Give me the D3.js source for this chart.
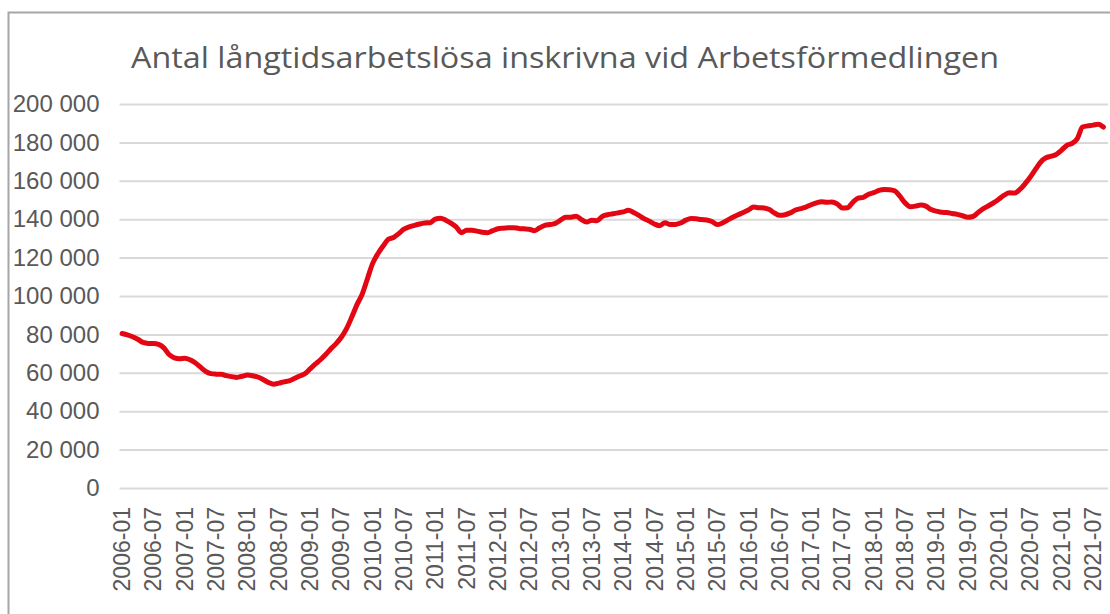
<!DOCTYPE html>
<html>
<head>
<meta charset="utf-8">
<script src="https://cdn.jsdelivr.net/npm/d3@7"></script>
<style>
  html, body { margin: 0; padding: 0; background: #fff; overflow: hidden; }
</style>
</head>
<body>
<div id="graph"></div>
<script>
// monthly values, 2006-01 .. 2021-09 (thousands)
var title = "Antal långtidsarbetslösa inskrivna vid Arbetsförmedlingen";
var startYear = 2006;
var v2006 = [80.5, 79.8, 78.8, 77.5, 75.8, 75.3, 75.3, 74.8, 73.0, 69.5, 67.8, 67.3];
var v2007 = [67.6, 66.8, 65.2, 63.0, 60.8, 59.6, 59.3, 59.2, 58.5, 58.0, 57.6, 58.2];
var v2008 = [58.8, 58.5, 57.8, 56.5, 55.0, 54.1, 54.6, 55.3, 55.8, 57.0, 58.3, 59.5];
var v2009 = [62.0, 64.5, 66.8, 69.5, 72.5, 75.2, 78.5, 83.0, 89.0, 95.5, 101.0, 109.0];
var v2010 = [117.0, 122.0, 126.0, 129.5, 130.5, 132.5, 134.8, 136.0, 136.8, 137.5, 138.0, 138.2];
var v2011 = [140.0, 140.5, 139.5, 138.0, 136.0, 133.0, 134.2, 134.2, 133.8, 133.2, 133.0, 134.0];
var v2012 = [135.0, 135.3, 135.5, 135.6, 135.2, 135.0, 134.8, 134.0, 135.5, 136.8, 137.2, 137.8];
var v2013 = [139.5, 141.0, 141.0, 141.6, 139.8, 138.5, 139.5, 139.2, 141.5, 142.3, 142.8, 143.3];
var v2014 = [143.8, 144.6, 143.5, 142.0, 140.3, 139.0, 137.5, 136.6, 138.2, 137.2, 137.3, 138.0];
var v2015 = [139.5, 140.4, 140.2, 139.8, 139.6, 138.8, 137.2, 138.0, 139.5, 141.0, 142.3, 143.5];
var v2016 = [144.8, 146.3, 146.0, 145.8, 145.0, 143.2, 142.0, 142.3, 143.3, 144.8, 145.5, 146.3];
var v2017 = [147.5, 148.5, 149.1, 148.8, 149.0, 148.0, 145.8, 146.0, 148.8, 151.0, 151.4, 153.0];
var v2018 = [153.8, 155.0, 155.5, 155.4, 154.8, 152.0, 148.5, 146.5, 146.8, 147.4, 146.8, 145.0];
var v2019 = [144.2, 143.6, 143.5, 143.0, 142.5, 141.8, 141.0, 141.4, 143.5, 145.5, 147.0, 148.6];
var v2020 = [150.5, 152.5, 153.8, 153.6, 155.5, 158.5, 162.0, 166.0, 169.8, 172.0, 172.8, 173.8];
var v2021 = [176.0, 178.5, 179.5, 182.0, 188.0, 188.6, 189.0, 189.5, 188.0];
var yTicks = [0, 20000, 40000, 60000, 80000, 100000, 120000, 140000, 160000, 180000, 200000];

var years = [v2006, v2007, v2008, v2009, v2010, v2011, v2012, v2013, v2014, v2015,
             v2016, v2017, v2018, v2019, v2020, v2021];

var data = [];
years.forEach(function(arr, i) {
    arr.forEach(function(v, m) {
        var mm = m + 1;
        data.push({
            label: (startYear + i) + "-" + (mm < 10 ? "0" + mm : mm),
            month: mm,
            value: v * 1000
        });
    });
});

var W = 1110, H = 614;
var plot = {left: 119.5, right: 1106, top: 104, bottom: 488};

var x = d3.scaleBand()
    .domain(data.map(function(d) { return d.label; }))
    .range([plot.left, plot.right]);

var y = d3.scaleLinear()
    .domain([0, 200000])
    .range([plot.bottom, plot.top]);

var svg = d3.select("#graph").append("svg")
    .attr("width", W)
    .attr("height", H)
    .style("display", "block");

// chart frame (right/bottom run off the picture)
svg.append("rect")
    .attr("x", 8.5).attr("y", 12.5)
    .attr("width", W + 20).attr("height", H + 20)
    .attr("fill", "none")
    .attr("stroke", "#a6a6a6")
    .attr("stroke-width", 2);

svg.append("text")
    .attr("x", 565)
    .attr("y", 68)
    .attr("text-anchor", "middle")
    .attr("font-family", "'Open Sans', 'Noto Sans', sans-serif")
    .attr("font-size", 29)
    .attr("fill", "#595959")
    .attr("textLength", 868)
    .attr("lengthAdjust", "spacingAndGlyphs")
    .text(title);

// y grid + labels
var yAxis = d3.axisLeft(y)
    .tickValues(yTicks)
    .tickSize(-(1108 - plot.left))
    .tickPadding(20)
    .tickFormat(function(d) { return d3.format(",")(d).replace(/,/g, " "); });

var gy = svg.append("g")
    .attr("transform", "translate(" + plot.left + ",0)")
    .call(yAxis);
gy.select(".domain").remove();
gy.selectAll(".tick line")
    .attr("stroke", "#d9d9d9")
    .attr("stroke-width", 2);
gy.selectAll(".tick text")
    .attr("font-family", "'Liberation Sans', Arial, sans-serif")
    .attr("font-size", 24)
    .attr("fill", "#595959");

// x labels every 6 months
var xAxis = d3.axisBottom(x)
    .tickValues(data.filter(function(d) { return d.month === 1 || d.month === 7; })
        .map(function(d) { return d.label; }))
    .tickSize(0);

var gx = svg.append("g")
    .attr("transform", "translate(0," + plot.bottom + ")")
    .call(xAxis);
gx.select(".domain").remove();
gx.selectAll(".tick text")
    .attr("font-family", "'Liberation Sans', Arial, sans-serif")
    .attr("font-size", 23)
    .attr("fill", "#595959")
    .attr("transform", "rotate(-90)")
    .attr("x", -19)
    .attr("y", 0)
    .attr("dy", "0.35em")
    .style("text-anchor", "end");

var line = d3.line()
    .x(function(d) { return x(d.label) + x.bandwidth() / 2; })
    .y(function(d) { return y(d.value); })
    .curve(d3.curveMonotoneX);

svg.append("path")
    .datum(data)
    .attr("d", line)
    .attr("fill", "none")
    .attr("stroke", "#e30613")
    .attr("stroke-width", 5)
    .attr("stroke-linejoin", "round")
    .attr("stroke-linecap", "round");
</script>
</body>
</html>
